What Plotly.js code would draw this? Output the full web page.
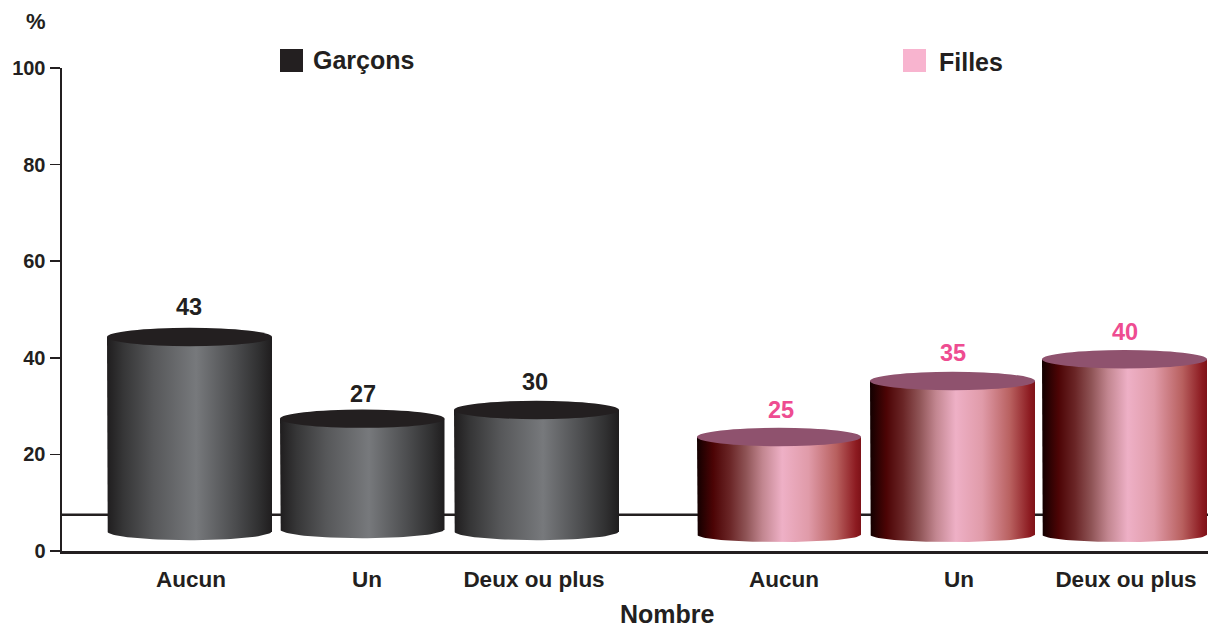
<!DOCTYPE html>
<html><head><meta charset="utf-8">
<script src="https://cdn.plot.ly/plotly-3.0.1.min.js"></script>
<style>html,body{margin:0;padding:0;background:#fff}#c{width:1208px;height:628px}</style>
</head><body><div id="c"></div>
<script>
// Data
const categories = ["Aucun","Un","Deux ou plus","Aucun","Un","Deux ou plus"];
const groups = ["Garçons","Garçons","Garçons","Filles","Filles","Filles"];
const printedValues = [43,27,30,25,35,40];
// the artwork's cylinders do not quite follow the printed numbers: rim height as drawn
const drawnTops = [44.3,27.4,29.2,23.6,35.2,39.7];
const drawnBases = [4.1,4.5,4.1,3.4,3.4,3.4];
const yTicks = [0,20,40,60,80,100];
const referenceLine = 7.5;

// Geometry (x axis is in page pixels)
const xLeft  = [107,280,454,697,870,1042];
const xRight = [272,444.5,619,861,1035,1207];
const tickX  = [191,367,534,784,959,1126];
const labelX = [189,363,535,781,953,1125];
const labelLift = [30,25,28,27,28,27];

const PX = 4.83, ink = "#231f20", pink = "#ee4c91", X0 = 62;
const greyScale = [[0,"#1f1d1e"],[0.1,"#363637"],[0.28,"#565759"],[0.54,"#77797c"],[0.78,"#4b4c4e"],[0.92,"#303031"],[1,"#1f1d1e"]];
const roseScale = [[0,"#120000"],[0.1,"#4c0405"],[0.2,"#6a2526"],[0.3,"#8f5456"],[0.4,"#c28690"],[0.52,"#eeb0c6"],[0.68,"#e09ba9"],[0.85,"#b8605f"],[0.97,"#8c1a20"],[1,"#7e1218"]];
const font = {family:"Liberation Sans, Arial, sans-serif", color:ink};

const traces = [], shapes = [], annotations = [];
shapes.push({type:"line",layer:"below",xref:"paper",yref:"y",x0:0,x1:1,y0:referenceLine,y1:referenceLine,line:{color:ink,width:2.4}});

categories.forEach((cat,i)=>{
  const girl = groups[i]==="Filles";
  const cx=(xLeft[i]+xRight[i])/2, rx=(xRight[i]-xLeft[i])/2, top=drawnTops[i], base=drawnBases[i];
  const xs=[xLeft[i]], ys=[top];
  const dip=(i<3?9:7.5)/PX;
  for(let k=0;k<=48;k++){const a=Math.PI*k/48; xs.push(cx-rx*Math.cos(a)); ys.push(base-dip*Math.sin(a));}
  xs.push(xRight[i],xLeft[i]); ys.push(top,top);
  traces.push({type:"scatter",mode:"lines",x:xs,y:ys,fill:"toself",line:{width:0},
    fillgradient:{type:"horizontal",colorscale:girl?roseScale:greyScale,start:xLeft[i],stop:xRight[i]},
    hoverinfo:"skip",showlegend:false,name:groups[i]+" – "+cat});
  const ry=9.2/PX;
  shapes.push({type:"circle",layer:"above",xref:"x",yref:"y",x0:xLeft[i],x1:xRight[i],y0:top-ry,y1:top+ry,
    fillcolor:girl?"#8f526e":ink,line:{width:0}});
  annotations.push({xref:"x",yref:"y",x:labelX[i],y:top,yshift:labelLift[i],showarrow:false,text:"<b>"+printedValues[i]+"</b>",
    font:{family:font.family,size:23.5,color:girl?pink:ink}});
});

// Legend and free text (positions in page pixels via the paper frame)
const W=1208-X0,H=483,px=x=>(x-X0)/W,py=y=>(551-y)/H;
[[280,ink],[903,"#f8b4cf"]].forEach(([x,c])=>shapes.push({type:"rect",xref:"paper",yref:"paper",x0:px(x),x1:px(x+23),y0:py(72),y1:py(49),fillcolor:c,line:{width:0}}));
[["Garçons",363,60,25],["Filles",971,62,25],["Nombre",668,613.5,25],["%",36,22,22]].forEach(([t,x,y,s])=>
  annotations.push({xref:"paper",yref:"paper",x:px(x),y:py(y),showarrow:false,text:"<b>"+t+"</b>",font:{family:font.family,size:s,color:ink},xanchor:"center",yanchor:"middle"}));

Plotly.newPlot("c",traces,{
  width:1208,height:628,margin:{l:X0,r:0,t:68,b:77},paper_bgcolor:"#fff",plot_bgcolor:"#fff",showlegend:false,
  font,shapes,annotations,
  xaxis:{range:[X0,1208],tickmode:"array",tickvals:tickX,ticktext:categories.map(c=>"<b>"+c+"</b>"),ticks:"",showgrid:false,zeroline:false,
    showline:true,linecolor:ink,linewidth:2.5,tickfont:{family:font.family,size:22.5,color:ink},ticklabelstandoff:6},
  yaxis:{range:[0,100],tickmode:"array",tickvals:yTicks,ticktext:yTicks.map(v=>"<b>"+v+"</b>"),ticks:"outside",ticklen:10,tickwidth:1.5,tickcolor:ink,
    showgrid:false,zeroline:false,showline:true,linecolor:ink,linewidth:2.5,tickfont:{family:font.family,size:20,color:ink},ticklabelstandoff:0}
},{displayModeBar:false,staticPlot:true});
</script></body></html>
